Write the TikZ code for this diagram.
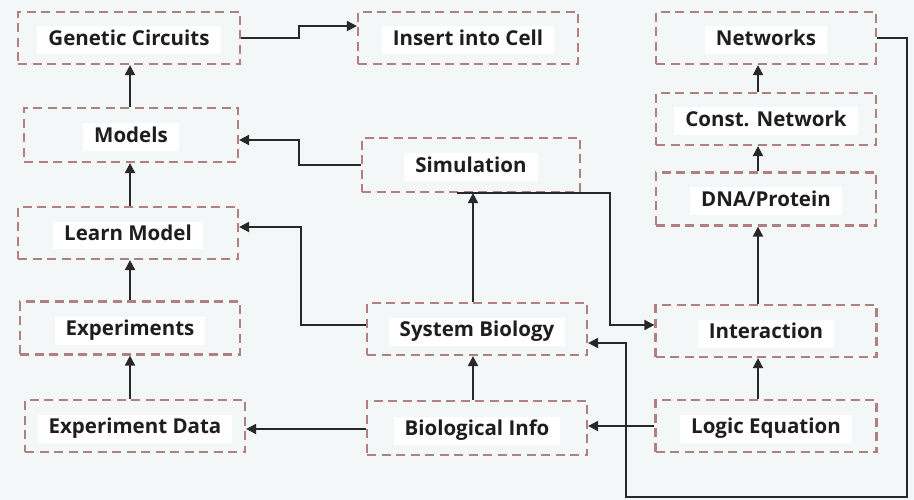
\documentclass[tikz,border=0pt]{standalone}
\usepackage{fontspec}
\setmainfont{Open Sans}
\usetikzlibrary{arrows.meta}
\definecolor{bgc}{RGB}{244,247,247}
\definecolor{boxc}{RGB}{176,128,128}
\definecolor{linec}{RGB}{40,40,40}
\definecolor{txtc}{RGB}{30,30,30}
\newcommand{\boxtext}[1]{{\setlength{\fboxsep}{2pt}\raisebox{-2.5pt}[\height][\depth]{\colorbox{white}{\strut\hspace{9pt}#1\hspace{9pt}}}}}
\tikzset{
  stagebox/.style={draw=boxc, line width=2.2pt, dash pattern=on 9pt off 5.5pt,
    minimum width=220pt, minimum height=52pt, inner sep=0pt,
    font=\fontsize{20.5}{24}\selectfont\bfseries, text=txtc},
  arr/.style={draw=linec, line width=1.9pt, -{Triangle[length=10pt,width=10pt]}}
}
\begin{document}
\begin{tikzpicture}[x=1pt,y=-1pt]
\fill[bgc] (0,0) rectangle (914,500);
\useasboundingbox (0,0) rectangle (914,500);
% nodes
\node[stagebox, minimum width=222pt] (gc) at (129,38) {\boxtext{Genetic Circuits}};
\node[stagebox] (ins) at (468,38) {\boxtext{Insert into Cell}};
\node[stagebox] (net) at (766,38) {\boxtext{Networks}};
\node[stagebox, minimum width=214pt, minimum height=54pt] (mod) at (131,135) {\boxtext{Models}};
\node[stagebox, minimum width=218pt, minimum height=54pt] (sim) at (471,165) {\boxtext{Simulation}};
\node[stagebox] (cn) at (766,119) {\boxtext{Const. Network}};
\node[stagebox, minimum height=53pt] (dna) at (766,199) {\boxtext{DNA/Protein}};
\node[stagebox] (lm) at (128,233) {\boxtext{Learn Model}};
\node[stagebox, minimum height=53pt] (exp) at (130,328) {\boxtext{Experiments}};
\node[stagebox] (sb) at (477,329) {\boxtext{System Biology}};
\node[stagebox, minimum width=221pt] (inter) at (766,331) {\boxtext{Interaction}};
\node[stagebox] (ed) at (135,426) {\boxtext{Experiment Data}};
\node[stagebox, minimum height=54pt] (bi) at (477,428) {\boxtext{Biological Info}};
\node[stagebox, minimum width=221pt] (le) at (766,426) {\boxtext{Logic Equation}};
% column coordinates
\coordinate (lx) at (130,0);
\coordinate (mx) at (473,0);
\coordinate (rx) at (758,0);
% left column
\draw[arr] (mod.north -| lx) -- (gc.south -| lx);
\draw[arr] (lm.north -| lx) -- (mod.south -| lx);
\draw[arr] (exp.north -| lx) -- (lm.south -| lx);
\draw[arr] (ed.north -| lx) -- (exp.south -| lx);
% middle column
\draw[arr] (sb.north -| mx) -- (sim.south -| mx);
\draw[arr] (bi.north -| mx) -- (sb.south -| mx);
% right column
\draw[arr] (le.north -| rx) -- (inter.south -| rx);
\draw[arr] (inter.north -| rx) -- (dna.south -| rx);
\draw[arr] (dna.north -| rx) -- (cn.south -| rx);
\draw[arr] (cn.north -| rx) -- (net.south -| rx);
% horizontal links
\draw[arr] (gc.east) -- ++(58,0) |- ([yshift=12pt]ins.west);
\draw[arr] (sim.west) -- ++(-62,0) |- ([yshift=-5pt]mod.east);
\draw[arr] ([yshift=4pt]sb.west) -- ++(-65,0) |- ([yshift=6pt]lm.east);
\draw[arr] ([yshift=-1pt]bi.west) -- ([yshift=-1pt]bi.west -| ed.east);
\draw[arr] (le.west) -- (le.west -| bi.east);
\draw[arr] ([xshift=-14pt]sim.south) -- ++(153,0) |- ([yshift=6pt]inter.west);
\draw[arr] (net.east) -- ++(30,0) -- ++(0,459) -- ++(-281,0) |- ([yshift=-14pt]sb.east);
\end{tikzpicture}
\end{document}
